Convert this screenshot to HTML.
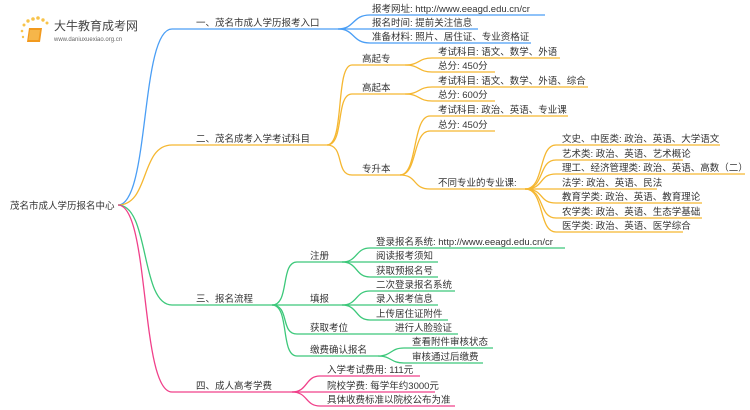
<!DOCTYPE html>
<html><head><meta charset="utf-8"><style>
html,body{margin:0;padding:0;background:#fff;width:750px;height:410px;overflow:hidden}
svg{display:block}
text{font-family:"Liberation Sans","Noto Sans CJK SC",sans-serif;font-size:9.5px;fill:#333}
</style></head><body>
<svg width="750" height="410" viewBox="0 0 750 410" xmlns="http://www.w3.org/2000/svg">
<g>
<circle cx="24" cy="25" r="1.5" fill="#f8c34a"/><circle cx="28" cy="21" r="1.7" fill="#f8c34a"/><circle cx="33" cy="19" r="1.8" fill="#f8c34a"/><circle cx="38" cy="18" r="1.8" fill="#f8c34a"/><circle cx="43" cy="20" r="1.7" fill="#f8c34a"/><circle cx="47" cy="23" r="1.5" fill="#f8c34a"/><circle cx="22" cy="31" r="1.3" fill="#f8c34a"/><circle cx="23" cy="37" r="1.2" fill="#f8c34a"/>
<path d="M29 28 L42 28 L40 42 L27 42 Z" fill="#f29a1e"/>
<path d="M30 30 L40 30 L38.5 40 L28.5 40 Z" fill="#f6b64a"/>
<text x="54" y="30" style="font-size:12px;fill:#444">大牛教育成考网</text>
<text x="54" y="41" style="font-size:6px;fill:#666">www.daniuxuexiao.org.cn</text>
</g>
<text x="10" y="209">茂名市成人学历报名中心</text>
<g fill="none" stroke-width="1.3">
<g stroke="#4a9ef5">
<path d="M118 205 C150 205 140 29 172 29 L338 29"/>
<path d="M338 29 C355 29 352 15 370 15 L545 15"/>
<path d="M338 29 L478 29"/>
<path d="M338 29 C355 29 352 43 370 43 L531 43"/>
</g>
<g stroke="#f5b731">
<path d="M118 205 C150 205 140 145 172 145 L327 145"/>
<path d="M327 145 C345 145 335 65 352 65 L405 65"/>
<path d="M327 145 C345 145 335 94 352 94 L405 94"/>
<path d="M327 145 C345 145 335 175 352 175 L400 175"/>
<path d="M405 65 C420 65 418 58 432 58 L560 58"/>
<path d="M405 65 C420 65 418 72 432 72 L495 72"/>
<path d="M405 94 C420 94 418 87 432 87 L588 87"/>
<path d="M405 94 C420 94 418 101 432 101 L495 101"/>
<path d="M400 175 C418 175 412 116 430 116 L568 116"/>
<path d="M400 175 C418 175 412 131 430 131 L495 131"/>
<path d="M400 175 C418 175 412 189 430 189 L525 189"/>
<path d="M525 189 C545 189 538 145 556 145 L720 145"/>
<path d="M525 189 C545 189 538 160 556 160 L683 160"/>
<path d="M525 189 C545 189 538 174 556 174 L745 174"/>
<path d="M525 189 L657 189"/>
<path d="M525 189 C545 189 538 203 556 203 L702 203"/>
<path d="M525 189 C545 189 538 218 556 218 L702 218"/>
<path d="M525 189 C545 189 538 232 556 232 L683 232"/>
</g>
<g stroke="#3cc87a">
<path d="M118 205 C150 205 140 305 172 305 L272 305"/>
<path d="M272 305 C290 305 280 262 297 262 L342 262"/>
<path d="M272 305 L342 305"/>
<path d="M272 305 C290 305 280 334 297 334 L458 334"/>
<path d="M272 305 C290 305 280 356 297 356 L378 356"/>
<path d="M342 262 C358 262 355 248 370 248 L565 248"/>
<path d="M342 262 L438 262"/>
<path d="M342 262 C358 262 355 277 370 277 L438 277"/>
<path d="M342 305 C358 305 355 291 370 291 L455 291"/>
<path d="M342 305 L438 305"/>
<path d="M342 305 C358 305 355 320 370 320 L448 320"/>
<path d="M378 356 C392 356 390 348 404 348 L493 348"/>
<path d="M378 356 C392 356 390 363 404 363 L483 363"/>
</g>
<g stroke="#f0408a">
<path d="M118 205 C150 205 140 392 172 392 L292 392"/>
<path d="M292 392 C308 392 305 376 320 376 L420 376"/>
<path d="M292 392 L435 392"/>
<path d="M292 392 C308 392 305 406 320 406 L455 406"/>
</g>
</g>
<text x="196" y="26">一、茂名市成人学历报考入口</text>
<text x="372" y="12">报考网址: http://www.eeagd.edu.cn/cr</text>
<text x="372" y="26">报名时间: 提前关注信息</text>
<text x="372" y="40">准备材料: 照片、居住证、专业资格证</text>
<text x="196" y="142">二、茂名成考入学考试科目</text>
<text x="362" y="62">高起专</text>
<text x="362" y="91">高起本</text>
<text x="362" y="172">专升本</text>
<text x="438" y="55">考试科目: 语文、数学、外语</text>
<text x="438" y="69">总分: 450分</text>
<text x="438" y="84">考试科目: 语文、数学、外语、综合</text>
<text x="438" y="98">总分: 600分</text>
<text x="438" y="113">考试科目: 政治、英语、专业课</text>
<text x="438" y="128">总分: 450分</text>
<text x="438" y="186">不同专业的专业课:</text>
<text x="562" y="142">文史、中医类: 政治、英语、大学语文</text>
<text x="562" y="157">艺术类: 政治、英语、艺术概论</text>
<text x="562" y="171">理工、经济管理类: 政治、英语、高数（二）</text>
<text x="562" y="186">法学: 政治、英语、民法</text>
<text x="562" y="200">教育学类: 政治、英语、教育理论</text>
<text x="562" y="215">农学类: 政治、英语、生态学基础</text>
<text x="562" y="229">医学类: 政治、英语、医学综合</text>
<text x="196" y="302">三、报名流程</text>
<text x="310" y="259">注册</text>
<text x="310" y="302">填报</text>
<text x="310" y="331">获取考位</text>
<text x="310" y="353">缴费确认报名</text>
<text x="376" y="245">登录报名系统: http://www.eeagd.edu.cn/cr</text>
<text x="376" y="259">阅读报考须知</text>
<text x="376" y="274">获取预报名号</text>
<text x="376" y="288">二次登录报名系统</text>
<text x="376" y="302">录入报考信息</text>
<text x="376" y="317">上传居住证附件</text>
<text x="395" y="331">进行人脸验证</text>
<text x="412" y="345">查看附件审核状态</text>
<text x="412" y="360">审核通过后缴费</text>
<text x="196" y="389">四、成人高考学费</text>
<text x="327" y="373">入学考试费用: 111元</text>
<text x="327" y="389">院校学费: 每学年约3000元</text>
<text x="327" y="403">具体收费标准以院校公布为准</text>
</svg>
</body></html>
